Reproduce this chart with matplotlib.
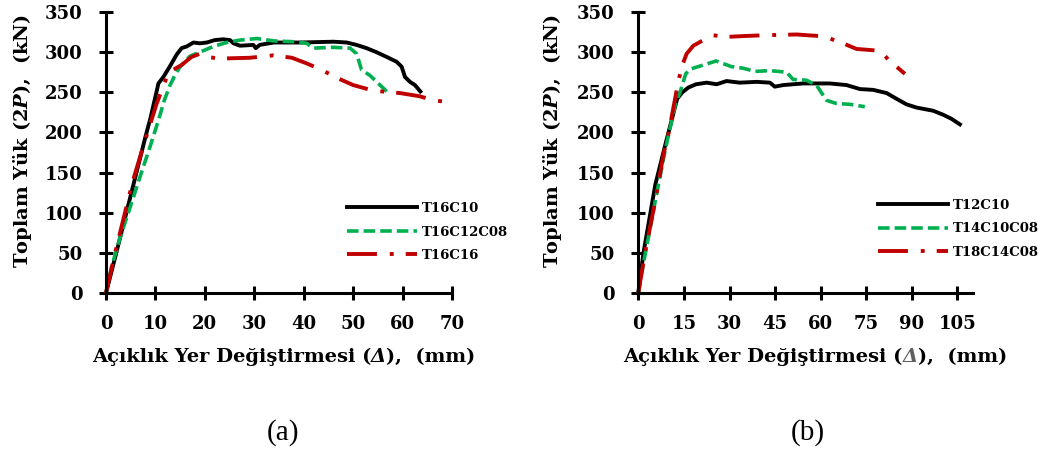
import matplotlib
matplotlib.use("Agg")
import matplotlib.pyplot as plt
from matplotlib.transforms import IdentityTransform

# ---------------- data (a) ----------------
a_T16C10_x = [0, 2, 4, 6, 8, 9, 10.2, 10.6, 11.6, 12.9, 14.3, 15.3, 16.3, 17.7, 19, 20.4, 22, 23.7, 25.1, 25.8, 27.1, 29.8, 30.3, 31.1, 33.9, 39.2, 46, 48.7, 50.7, 52.7, 54.7, 56.8, 58.8, 59.8, 60.5, 61.5, 62.5, 63.6]
a_T16C10_y = [0, 48, 97, 146, 195, 218, 250, 261, 269, 282, 297, 305, 307, 312, 311, 312, 315, 316, 315, 311, 308, 309, 305, 309, 312, 312, 313, 312, 309, 305, 300, 294, 288, 282, 269, 263, 259, 251]
a_T16C12C08_x = [0, 1.15, 2.9, 4.9, 6.9, 8.9, 10.6, 11.8, 12.9, 14, 15, 17, 19, 21.7, 24.4, 27.1, 30.5, 33.9, 37.9, 40.6, 41.9, 46, 49.4, 50.7, 51.7, 53.4, 55.1, 56.8]
a_T16C12C08_y = [0, 33, 70, 107, 145, 182, 215, 240, 258, 272, 282, 295, 300, 307, 312, 315, 317, 314, 313, 311, 305, 306, 305, 298, 278, 271, 261, 251]
a_T16C16_x = [0, 1.8, 3.8, 5.5, 7.8, 10.2, 11.3, 12.3, 13.6, 15.3, 17.3, 19, 20.4, 23.1, 29.1, 33.9, 37.6, 40.6, 43.6, 46.7, 50, 54.1, 59.5, 63.5, 66.2, 68.9]
a_T16C16_y = [0, 49, 99, 141, 188, 235, 253, 269, 278, 284, 294, 298, 294, 292, 293, 296, 293, 286, 278, 268, 259, 252, 249, 245, 240, 238]

# ---------------- data (b) ----------------
b_T12C10_x = [0, 1.7, 5.6, 8.9, 12.8, 14.5, 16.5, 19, 22.5, 25.8, 29, 33.4, 38.9, 43.3, 44.9, 47.7, 54.3, 63, 68.5, 72.9, 77.3, 81.7, 84.9, 88.2, 91.5, 97, 100.3, 103, 105.8]
b_T12C10_y = [0, 50, 135, 185, 242, 250, 256, 260, 262, 260, 264, 262, 263, 262, 257, 259, 261, 261, 259, 254, 253, 249, 242, 235, 231, 227, 222, 217, 210]
b_T14C10C08_x = [0, 1.4, 5.6, 8.9, 12.2, 13.9, 15.6, 17.2, 20.6, 25.6, 30.6, 34.5, 38.3, 43.3, 48.8, 50.9, 55.3, 58.6, 61.9, 65.2, 69.6, 74.5]
b_T14C10C08_y = [0, 31, 115, 179, 235, 252, 273, 279, 283, 289, 282, 280, 276, 277, 275, 266, 265, 259, 240, 236, 235, 232]
b_T18C14C08_x = [0, 2.2, 5.6, 8.3, 10, 12.2, 13, 14.4, 15.9, 18.1, 21.4, 24.7, 29, 34.5, 41.1, 52.1, 59.7, 63, 67.3, 71.8, 78.4, 80.6, 82.8, 84.9, 87.7]
b_T18C14C08_y = [0, 50, 115, 173, 200, 244, 261, 283, 298, 308, 315, 321, 319, 320, 321, 322, 320, 317, 311, 304, 302, 298, 288, 282, 273]

a_labels = ["T16C10", "T16C12C08", "T16C16"]
b_labels = ["T12C10", "T14C10C08", "T18C14C08"]
a_xticks = [0, 10, 20, 30, 40, 50, 60, 70]
b_xticks = [0, 15, 30, 45, 60, 75, 90, 105]
yticks = [0, 50, 100, 150, 200, 250, 300, 350]
captions = ["(a)", "(b)"]
ylabel_text = r"Toplam Yük (2$\mathit{P}$),  (kN)"
xlabel_parts = ["Açıklık Yer Değiştirmesi (", "Δ", "),  (mm)"]
xlabel_styles = ["normal", "italic", "normal"]

plt.rcParams['mathtext.fontset'] = 'custom'
plt.rcParams['mathtext.it'] = 'DejaVu Serif:italic:bold'
plt.rcParams['mathtext.rm'] = 'DejaVu Serif:bold'

BLACK = "#000000"
GREEN = "#00B050"
RED = "#C00000"
styles = [
    dict(color=BLACK, lw=2.8, linestyle='-'),
    dict(color=GREEN, lw=2.6, linestyle=(0, (3.2, 1.4))),
    dict(color=RED, lw=2.8, linestyle=(0, (7.7, 3.3, 1.0, 3.1))),
]

W, H = 1057, 453
fig = plt.figure(figsize=(W / 100, H / 100), dpi=100)
ax1 = fig.add_axes([106/W, 160/H, 346/W, 281/H])
ax2 = fig.add_axes([638.3/W, 160/H, 334.4/W, 281/H])

font = dict(family='DejaVu Serif', weight='bold')


def setup(ax, xticks, xmax, legend_anchor, ylab_x):
    ax.set_xlim(0, xmax)
    ax.set_ylim(0, 350)
    ax.set_xticks(xticks)
    ax.set_yticks(yticks)
    for s in ['top', 'right']:
        ax.spines[s].set_visible(False)
    for s in ['left', 'bottom']:
        ax.spines[s].set_linewidth(2.2)
        ax.spines[s].set_color('black')
    ax.tick_params(direction='inout', length=10, width=2.2, labelsize=13)
    ax.tick_params(axis='y', pad=12)
    ax.tick_params(axis='x', pad=11)
    for lab in ax.get_xticklabels() + ax.get_yticklabels():
        lab.set_fontfamily('DejaVu Serif')
        lab.set_fontweight('bold')
    ax.set_ylabel(ylabel_text, fontsize=14, **font)
    ax.yaxis.set_label_coords(ylab_x, 0.541)
    ax.legend(loc='upper left', bbox_to_anchor=legend_anchor, frameon=False,
              prop=dict(family='DejaVu Serif', weight='bold', size=9.5),
              handlelength=5.3, handletextpad=0.38, labelspacing=0.8,
              borderaxespad=0, borderpad=0)
    ax.patch.set_alpha(0)


for x, y, lab, st in zip([a_T16C10_x, a_T16C12C08_x, a_T16C16_x],
                         [a_T16C10_y, a_T16C12C08_y, a_T16C16_y], a_labels, styles):
    ax1.plot(x, y, label=lab, clip_on=False, **st)
for x, y, lab, st in zip([b_T12C10_x, b_T14C10C08_x, b_T18C14C08_x],
                         [b_T12C10_y, b_T14C10C08_y, b_T18C14C08_y], b_labels, styles):
    ax2.plot(x, y, label=lab, clip_on=False, **st)

setup(ax1, a_xticks, 70, (0.696, 0.324), -0.208)
setup(ax2, b_xticks, 110, (0.718, 0.335), -0.222)


def pieced_label(cx, baseline_from_top, colors):
    renderer = fig.canvas.get_renderer()
    texts = []
    for part, c, sty in zip(xlabel_parts, colors, xlabel_styles):
        t = fig.text(0, 0, part, color=c, fontsize=14, ha='left', va='baseline',
                     style=sty, transform=IdentityTransform(), **font)
        texts.append(t)
    widths = [t.get_window_extent(renderer).width for t in texts]
    x = cx - sum(widths) / 2
    y = H - baseline_from_top
    for t, w in zip(texts, widths):
        t.set_position((x, y))
        x += w


pieced_label(283.5, 362, [BLACK, BLACK, BLACK])
pieced_label(815, 362, [BLACK, "#606060", BLACK])

fig.text(283/W, 1 - 432.5/H, captions[0], fontsize=21, family='Liberation Serif', ha='center', va='center')
fig.text(808/W, 1 - 432.5/H, captions[1], fontsize=21, family='Liberation Serif', ha='center', va='center')

fig.savefig("out.png", dpi=100)
